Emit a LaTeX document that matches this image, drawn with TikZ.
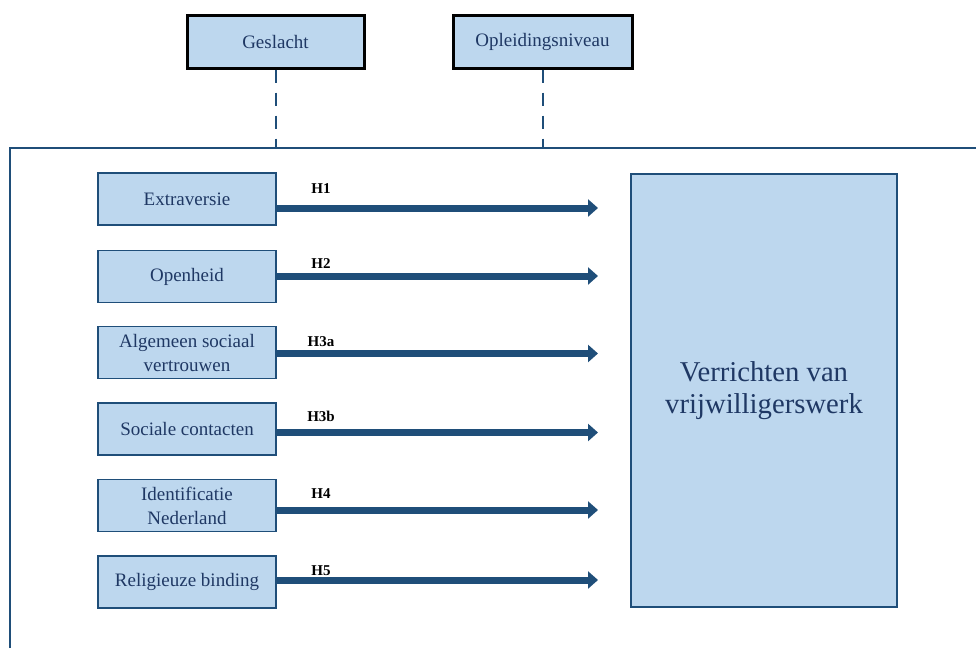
\documentclass[tikz,border=0pt]{standalone}
\usepackage{fontspec}
\setmainfont{Liberation Serif}
\usepackage{tikz}
\usetikzlibrary{arrows.meta,positioning}
\definecolor{lightfill}{HTML}{BDD7EE}
\definecolor{darkline}{HTML}{1F4E79}
\definecolor{darktext}{HTML}{1F3864}
\tikzset{
  predbox/.style={draw=darkline,line width=1.5pt,fill=lightfill,text=darktext,minimum width=178pt,minimum height=52pt,inner sep=1pt,align=center,font=\fontsize{19}{24}\selectfont},
  controlbox/.style={predbox,draw=black,line width=3pt,minimum width=177pt,minimum height=53pt},
  outcomebox/.style={predbox,line width=2pt,minimum width=266pt,minimum height=433pt,font=\fontsize{28.7}{32}\selectfont},
  hyparrow/.style={draw=darkline,line width=7pt,-{Triangle[length=10pt,width=17pt]}},
  hyplabel/.style={anchor=base,inner sep=0pt,font=\fontsize{15}{15}\selectfont\bfseries},
  dashline/.style={draw=darkline,line width=2pt,dash pattern=on 13pt off 10pt},
  frameline/.style={draw=darkline,line width=2pt}
}

\begin{document}
\begin{tikzpicture}[x=1pt,y=-1pt]
  \useasboundingbox (0,0) rectangle (976,648);

  \node[controlbox] (geslacht) at (275.5,41.5) {Geslacht};
  \node[controlbox,minimum width=179pt] (opleiding) at (542.5,41.5) {Opleidingsniveau};

  \coordinate (framecorner) at (10,148);
  \coordinate (framebottom) at (10,648);
  \coordinate (frameright) at (976,148);
  \draw[frameline] (framebottom) -- (framecorner) -- (frameright);

  \draw[dashline] (geslacht.south) -- (geslacht.south |- framecorner);
  \draw[dashline] (opleiding.south) -- (opleiding.south |- framecorner);

  \node[outcomebox] (outcome) at (764,390.5) {Verrichten van\\vrijwilligerswerk};

  \foreach \idx/\ymid/\yarrow/\ylabel/\hyplab/\boxtext in {1/199/208/193/H1/Extraversie,
      2/276.5/276/268/H2/Openheid,
      3/352.5/353.5/346/H3a/{Algemeen sociaal\\vertrouwen},
      4/429/432.5/421.7/H3b/Sociale contacten,
      5/505.5/510/498/H4/{Identificatie\\Nederland},
      6/582/580/575/H5/Religieuze binding} {
    \node[predbox] (pred\idx) at (187,\ymid) {\boxtext};
    \coordinate (tip\idx) at (598,\yarrow);
    \draw[hyparrow] (pred\idx.east |- tip\idx) -- (tip\idx);
    \node[hyplabel] (hyp\idx) at (321,\ylabel) {\hyplab};
  }
\end{tikzpicture}
\end{document}
